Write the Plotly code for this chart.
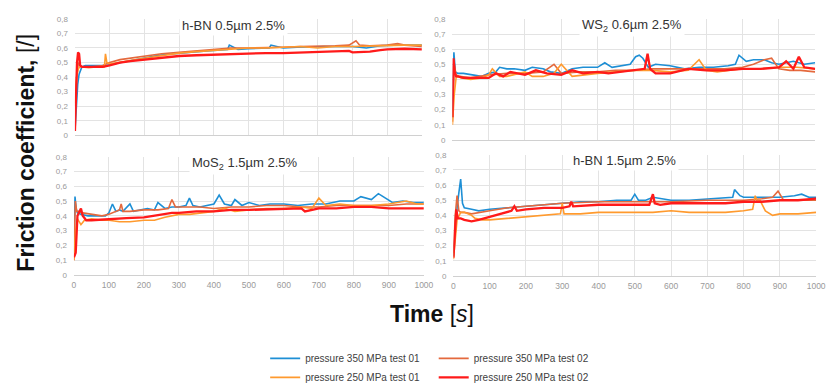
import plotly.graph_objects as go

# ---------------- DATA ----------------
series_names = ["pressure 350 MPa test 01", "pressure 350 MPa test 02",
                "pressure 250 MPa test 01", "pressure 250 MPa test 02"]
panel_titles = ["h-BN 0.5µm 2.5%", "WS<sub>2</sub> 0.6µm 2.5%",
                "MoS<sub>2</sub> 1.5µm 2.5%", "h-BN 1.5µm 2.5%"]
y_tickvals = [0, 0.1, 0.2, 0.3, 0.4, 0.5, 0.6, 0.7, 0.8]
y_ticktext = ["0", "0,1", "0,2", "0,3", "0,4", "0,5", "0,6", "0,7", "0,8"]
x_tickvals = [0, 100, 200, 300, 400, 500, 600, 700, 800, 900, 1000]
x_ticktext = ["0", "100", "200", "300", "400", "500", "600", "700", "800", "900", "1000"]

# Panel 1: h-BN 0.5um
p1_t_350_01 = [0,4,8,12,16,20,30,50,70,90,110,130,150,175,200,230,260,290,320,350,380,410,440,445,470,500,530,560,565,600,640,680,720,760,800,840,880,920,950,980,1000]
p1_f_350_01 = [0.03,0.2,0.35,0.42,0.45,0.47,0.48,0.48,0.48,0.48,0.49,0.5,0.51,0.52,0.53,0.545,0.555,0.56,0.57,0.575,0.58,0.585,0.59,0.62,0.59,0.595,0.6,0.6,0.62,0.6,0.605,0.61,0.61,0.61,0.61,0.6,0.615,0.62,0.62,0.625,0.62]
p1_t_350_02 = [0,5,10,15,20,30,50,80,100,130,160,200,250,300,350,400,450,500,550,600,650,700,750,790,810,820,850,900,930,950,1000]
p1_f_350_02 = [0.2,0.4,0.5,0.48,0.47,0.47,0.47,0.48,0.5,0.52,0.53,0.54,0.56,0.57,0.58,0.59,0.6,0.6,0.6,0.605,0.61,0.61,0.615,0.62,0.65,0.62,0.615,0.62,0.63,0.62,0.61]
p1_t_250_01 = [0,5,10,15,20,40,60,85,88,92,100,120,150,200,250,300,350,400,450,500,550,600,650,700,750,800,850,900,950,1000]
p1_f_250_01 = [0.22,0.4,0.46,0.47,0.47,0.465,0.47,0.47,0.56,0.5,0.49,0.5,0.51,0.53,0.55,0.565,0.575,0.585,0.59,0.6,0.6,0.605,0.61,0.6,0.61,0.61,0.615,0.615,0.62,0.62]
p1_t_250_02 = [0,3,6,9,12,15,20,30,50,80,100,130,160,200,250,300,350,400,450,500,550,600,650,700,750,790,800,820,850,880,900,950,1000]
p1_f_250_02 = [0.03,0.3,0.5,0.57,0.56,0.48,0.47,0.47,0.47,0.47,0.48,0.5,0.51,0.52,0.535,0.545,0.55,0.555,0.56,0.56,0.565,0.565,0.57,0.575,0.58,0.58,0.57,0.57,0.575,0.585,0.59,0.595,0.59]

# Panel 2: WS2 0.6um
p2_t_350_01 = [0,4,8,15,30,50,80,100,120,130,150,170,200,220,250,270,300,330,360,400,420,440,470,490,505,515,525,540,560,600,640,680,720,760,780,790,810,830,860,880,900,940,970,1000]
p2_f_350_01 = [0.15,0.58,0.45,0.44,0.44,0.43,0.42,0.44,0.45,0.48,0.47,0.47,0.46,0.48,0.47,0.45,0.44,0.47,0.48,0.48,0.51,0.48,0.49,0.5,0.55,0.56,0.54,0.48,0.5,0.49,0.47,0.48,0.48,0.49,0.5,0.56,0.52,0.53,0.53,0.51,0.5,0.52,0.5,0.51]
p2_t_350_02 = [0,5,10,20,50,100,150,200,250,280,300,350,400,450,500,550,600,650,700,750,800,830,860,880,900,930,960,1000]
p2_f_350_02 = [0.12,0.5,0.43,0.42,0.41,0.43,0.44,0.44,0.45,0.5,0.44,0.45,0.45,0.46,0.46,0.47,0.47,0.47,0.47,0.47,0.48,0.5,0.53,0.54,0.47,0.46,0.46,0.45]
p2_t_250_01 = [0,5,10,15,25,50,80,100,110,130,150,180,200,220,250,280,300,330,360,400,450,500,550,600,650,680,700,730,760,800,850,900,950,1000]
p2_f_250_01 = [0.1,0.3,0.41,0.42,0.41,0.4,0.41,0.43,0.47,0.42,0.42,0.44,0.45,0.42,0.42,0.44,0.5,0.42,0.43,0.44,0.45,0.46,0.46,0.45,0.46,0.53,0.46,0.45,0.46,0.47,0.47,0.48,0.48,0.47]
p2_t_250_02 = [0,3,6,10,15,30,60,100,120,140,160,200,230,260,300,330,360,400,430,460,500,530,538,545,560,600,650,700,750,800,850,900,920,940,955,970,1000]
p2_f_250_02 = [0.15,0.54,0.45,0.42,0.42,0.41,0.41,0.41,0.44,0.42,0.45,0.43,0.46,0.44,0.43,0.46,0.44,0.45,0.44,0.45,0.46,0.47,0.57,0.47,0.44,0.44,0.47,0.46,0.46,0.47,0.47,0.48,0.52,0.47,0.55,0.48,0.47]

# Panel 3: MoS2 1.5um
p3_t_350_01 = [0,3,6,10,20,40,60,90,100,110,120,130,140,160,170,190,210,230,240,260,280,300,320,330,340,360,380,400,415,430,450,460,480,500,530,560,600,640,680,720,760,800,820,850,870,890,910,940,970,1000]
p3_f_350_01 = [0.15,0.53,0.45,0.42,0.41,0.4,0.4,0.4,0.42,0.48,0.43,0.44,0.43,0.48,0.43,0.44,0.45,0.44,0.49,0.45,0.46,0.46,0.47,0.52,0.47,0.46,0.47,0.48,0.54,0.48,0.47,0.51,0.47,0.49,0.47,0.48,0.48,0.47,0.48,0.48,0.5,0.5,0.53,0.51,0.55,0.52,0.49,0.5,0.49,0.49]
p3_t_350_02 = [0,4,8,15,25,50,80,100,130,135,140,160,200,240,270,280,290,320,360,400,450,500,550,600,650,700,750,800,850,900,950,1000]
p3_f_350_02 = [0.1,0.5,0.43,0.43,0.42,0.41,0.4,0.41,0.44,0.48,0.43,0.43,0.44,0.44,0.45,0.51,0.46,0.46,0.46,0.45,0.46,0.46,0.47,0.47,0.46,0.46,0.47,0.47,0.47,0.47,0.48,0.48]
p3_t_250_01 = [0,5,10,20,30,50,80,100,130,160,200,230,260,300,330,360,400,430,460,500,550,600,650,680,700,720,760,800,850,900,950,980,1000]
p3_f_250_01 = [0.1,0.3,0.38,0.34,0.37,0.38,0.37,0.37,0.36,0.36,0.37,0.37,0.39,0.41,0.41,0.42,0.43,0.45,0.43,0.44,0.45,0.45,0.46,0.45,0.52,0.47,0.48,0.47,0.47,0.48,0.5,0.48,0.48]
p3_t_250_02 = [0,5,10,15,20,25,35,50,100,150,200,250,280,300,350,400,450,500,550,600,650,660,700,750,800,850,900,950,1000]
p3_f_250_02 = [0.12,0.15,0.4,0.43,0.45,0.4,0.37,0.37,0.38,0.385,0.39,0.41,0.42,0.42,0.43,0.43,0.44,0.44,0.445,0.45,0.45,0.43,0.45,0.45,0.46,0.46,0.45,0.45,0.45]

# Panel 4: h-BN 1.5um
p4_t_350_01 = [0,5,10,15,20,25,30,50,70,100,150,200,250,300,350,400,450,490,500,510,530,550,600,650,700,750,770,775,790,800,850,900,940,960,980,1000]
p4_f_350_01 = [0.13,0.3,0.45,0.55,0.64,0.48,0.45,0.44,0.43,0.44,0.45,0.46,0.47,0.48,0.49,0.49,0.5,0.5,0.54,0.5,0.5,0.52,0.5,0.5,0.51,0.52,0.52,0.57,0.53,0.52,0.52,0.52,0.53,0.54,0.52,0.52]
p4_t_350_02 = [0,5,10,15,20,30,50,80,100,150,200,250,300,400,500,600,700,800,850,880,895,910,950,1000]
p4_f_350_02 = [0.15,0.4,0.53,0.43,0.42,0.42,0.41,0.42,0.43,0.45,0.46,0.47,0.48,0.49,0.49,0.49,0.5,0.5,0.51,0.52,0.56,0.5,0.5,0.5]
p4_t_250_01 = [0,5,10,20,30,40,50,60,80,100,150,200,250,295,300,305,350,400,450,500,550,600,650,700,750,800,825,832,838,845,860,880,900,950,1000]
p4_f_250_01 = [0.11,0.25,0.37,0.42,0.42,0.41,0.4,0.38,0.37,0.37,0.38,0.39,0.4,0.41,0.48,0.41,0.41,0.42,0.42,0.42,0.42,0.43,0.42,0.42,0.42,0.43,0.44,0.53,0.49,0.5,0.43,0.4,0.41,0.41,0.42]
p4_t_250_02 = [0,4,8,12,20,30,50,70,100,130,160,168,175,200,250,300,320,325,330,400,450,500,540,550,555,570,600,650,700,750,800,850,900,950,1000]
p4_f_250_02 = [0.12,0.3,0.44,0.38,0.38,0.37,0.36,0.37,0.39,0.41,0.43,0.46,0.43,0.44,0.45,0.45,0.46,0.49,0.46,0.47,0.47,0.47,0.47,0.54,0.48,0.47,0.48,0.48,0.48,0.48,0.49,0.49,0.5,0.5,0.51]

# ---------------- STYLE ----------------
colors = ["#1E8FD5", "#E4693D", "#FF9A2E", "#FF1A1A"]
widths = [1.6, 1.6, 1.6, 2.3]
legend_ids = ["legend", "legend2", "legend", "legend2"]
draw_order = [0, 1, 2, 3]

panels = [
    [(p1_t_350_01, p1_f_350_01), (p1_t_350_02, p1_f_350_02), (p1_t_250_01, p1_f_250_01), (p1_t_250_02, p1_f_250_02)],
    [(p2_t_350_01, p2_f_350_01), (p2_t_350_02, p2_f_350_02), (p2_t_250_01, p2_f_250_01), (p2_t_250_02, p2_f_250_02)],
    [(p3_t_350_01, p3_f_350_01), (p3_t_350_02, p3_f_350_02), (p3_t_250_01, p3_f_250_01), (p3_t_250_02, p3_f_250_02)],
    [(p4_t_350_01, p4_f_350_01), (p4_t_350_02, p4_f_350_02), (p4_t_250_01, p4_f_250_01), (p4_t_250_02, p4_f_250_02)],
]
for pi, panel in enumerate(panels):
    for si, (t, f) in enumerate(panel):
        assert len(t) == len(f), (pi, si, len(t), len(f))

W, H = 836, 392
# pixel boxes measured from top-left (left, right, top, bottom)
boxes = [(74, 426, 16, 141), (457, 825, 16, 146), (73, 428, 164, 291), (458, 826, 162, 292)]
title_pos = [(235, 23), (639, 23), (246, 171), (632, 168)]

fig = go.Figure()
for pi, panel in enumerate(panels):
    ax = "" if pi == 0 else str(pi + 1)
    for si in draw_order:
        t, f = panel[si]
        fig.add_trace(go.Scatter(
            x=t, y=f, mode="lines", name=series_names[si],
            line=dict(color=colors[si], width=widths[si]),
            xaxis="x" + ax, yaxis="y" + ax,
            showlegend=(pi == 0), legend=legend_ids[si],
            legendrank=si,
        ))
    l, r, tp, bt = boxes[pi]
    fig.layout["xaxis" + ax] = dict(
        domain=[l / W, r / W], range=[0, 1000], anchor="y" + ax,
        tickvals=x_tickvals, ticktext=x_ticktext, showticklabels=(pi >= 2),
        tickfont=dict(size=8.5, color="#9a9a9a", family="Liberation Sans, Arial"),
        showgrid=True, gridcolor="#e3e3e3", gridwidth=1, zeroline=False,
        showline=True, linecolor="#d0d0d0", ticks="", ticklabelstandoff=2,
    )
    fig.layout["yaxis" + ax] = dict(
        domain=[1 - bt / H, 1 - tp / H], range=[0, 0.8], anchor="x" + ax,
        tickvals=y_tickvals, ticktext=y_ticktext,
        tickfont=dict(size=8, color="#9a9a9a", family="Liberation Sans, Arial"),
        showgrid=True, gridcolor="#e3e3e3", gridwidth=1, zeroline=False,
        showline=False, ticks="", ticklabelstandoff=6,
    )
    cx, cy = title_pos[pi]
    fig.add_annotation(
        x=cx / W, y=1 - cy / H, xref="paper", yref="paper", text=panel_titles[pi],
        xanchor="center", yanchor="middle",
        showarrow=False, bgcolor="white", borderpad=2,
        font=dict(size=13, color="#333333", family="Liberation Sans, Arial"),
    )

fig.add_annotation(
    x=24 / W, y=1 - 160 / H, xref="paper", yref="paper", textangle=-90,
    xanchor="center", yanchor="middle",
    text="<b>Friction coefficient,</b> [/]", showarrow=False,
    font=dict(size=23, color="#111111", family="Liberation Sans, Arial"),
)
fig.add_annotation(
    x=436 / W, y=1 - 333 / H, xref="paper", yref="paper",
    xanchor="center", yanchor="middle",
    text="<b>Time</b> [<i>s</i>]", showarrow=False,
    font=dict(size=23, color="#111111", family="Liberation Sans, Arial"),
)

legend_style = dict(
    orientation="v", bgcolor="rgba(0,0,0,0)", borderwidth=0,
    font=dict(size=10, color="#404040", family="Liberation Sans, Arial"),
    itemwidth=30, tracegroupgap=0, yanchor="top", xanchor="left",
)
fig.update_layout(
    width=W, height=H, margin=dict(l=0, r=0, t=0, b=0),
    paper_bgcolor="white", plot_bgcolor="white", showlegend=True,
    legend=dict(x=267 / W, y=1 - 365 / H, **legend_style),
    legend2=dict(x=438 / W, y=1 - 365 / H, **legend_style),
)

fig.write_html("out.html", config={"displayModeBar": False},
               post_script="document.body.style.margin='0px';")
